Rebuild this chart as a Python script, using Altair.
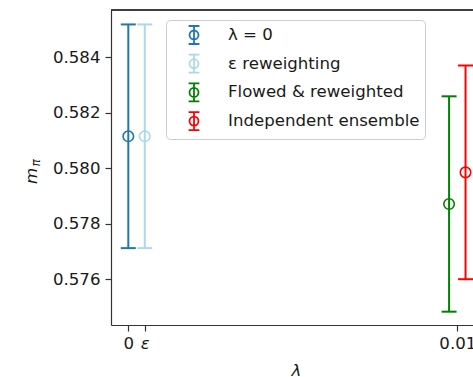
import altair as alt
import pandas as pd

# Pion mass at two lambda values, with error bars
series = ["λ = 0", "ε reweighting", "Flowed & reweighted", "Independent ensemble"]
lam = [0.0, 0.0005, 0.00975, 0.01025]
m_pi = [0.58115, 0.58115, 0.57871, 0.57985]
m_err = [0.00403, 0.00403, 0.00388, 0.00385]
colors = ["#1f77b4", "#add8e6", "#008000", "#ff0000"]

x_ticks = [0.0, 0.0005, 0.01]
y_ticks = [0.576, 0.578, 0.580, 0.582, 0.584]
y_title = ["m", "π"]

df = pd.DataFrame({"series": series, "lam": lam, "m": m_pi, "err": m_err})
df["lo"] = df["m"] - df["err"]
df["hi"] = df["m"] + df["err"]

FONT = "DejaVu Sans"
FS = 16.6
W, H = 362, 315

# error-bar glyph for the legend: vertical bar, caps and an open circle
ERRBAR_PATH = (
    "M0,-1L0,1M-0.6,-1L0.6,-1M-0.6,1L0.6,1"
    "M0.5,0A0.5,0.5 0 1,1 -0.5,0A0.5,0.5 0 1,1 0.5,0Z"
)

x_scale = alt.Scale(domain=[-0.000526, 0.010477], nice=False, zero=False)
y_scale = alt.Scale(domain=[0.57435, 0.5857], nice=False, zero=False)

x_enc = alt.X(
    "lam:Q",
    scale=x_scale,
    title="λ",
    axis=alt.Axis(
        values=x_ticks,
        labelExpr="datum.value == 0 ? '0' : (datum.value < 0.001 ? 'ε' : '0.01')",
        labelFontStyle={"condition": {"test": "datum.value > 0 && datum.value < 0.001",
                                      "value": "italic"}, "value": "normal"},
        grid=False,
        tickSize=6,
        labelPadding=4,
        titleFontStyle="italic",
        titleX=185,
        titleY=50,
        titleBaseline="alphabetic",
    ),
)

color_enc = alt.Color(
    "series:N",
    scale=alt.Scale(domain=series, range=colors),
    legend=alt.Legend(
        orient="none",
        legendX=55,
        legendY=10,
        title=None,
        symbolType=ERRBAR_PATH,
        symbolSize=324,
        symbolStrokeWidth=1.8,
        symbolFillColor="transparent",
        symbolOffset=13,
        labelOffset=24,
        labelFont=FONT,
        labelFontSize=FS,
        labelColor="#1a1a1a",
        labelLimit=400,
        rowPadding=2.7,
        padding=5,
        strokeColor="#cccccc",
        fillColor="white",
        cornerRadius=4,
    ),
)

base = alt.Chart(df)

bars = base.mark_rule(strokeWidth=2).encode(
    x=x_enc,
    y=alt.Y("lo:Q", scale=y_scale, title=None,
            axis=alt.Axis(values=y_ticks, format=".3f", grid=False,
                          tickSize=6, labelPadding=5)),
    y2="hi:Q",
    color=color_enc,
)

cap_lo = base.mark_rule(strokeWidth=2, xOffset=-7.5, x2Offset=7.5).encode(
    x=x_enc, x2="lam:Q", y=alt.Y("lo:Q", scale=y_scale), color=color_enc
)
cap_hi = base.mark_rule(strokeWidth=2, xOffset=-7.5, x2Offset=7.5).encode(
    x=x_enc, x2="lam:Q", y=alt.Y("hi:Q", scale=y_scale), color=color_enc
)

points = base.mark_point(filled=False, size=110, strokeWidth=1.6, opacity=1).encode(
    x=x_enc, y=alt.Y("m:Q", scale=y_scale), color=color_enc
)

top_line = base.mark_rule(color="#333333", strokeWidth=1.2).encode(
    x=alt.value(0), x2=alt.value(W), y=alt.value(0)
)

title_df = pd.DataFrame({"t": [y_title[0]]})
sub_df = pd.DataFrame({"t": [y_title[1]]})
y_lab = alt.Chart(title_df).mark_text(
    font=FONT, fontSize=FS, fontStyle="italic", angle=270,
    align="center", baseline="alphabetic", color="#1a1a1a"
).encode(text="t:N", x=alt.value(-74), y=alt.value(166))
y_sub = alt.Chart(sub_df).mark_text(
    font=FONT, fontSize=12, fontStyle="italic", angle=270,
    align="center", baseline="alphabetic", color="#1a1a1a"
).encode(text="t:N", x=alt.value(-71), y=alt.value(153))

chart = (
    alt.layer(bars, cap_lo, cap_hi, points, top_line, y_lab, y_sub)
    .properties(
        width=W,
        height=H,
        autosize="none",
        padding={"left": 111, "top": 10, "right": 0, "bottom": 52},
    )
    .configure_view(stroke=None)
    .configure_axis(
        labelFont=FONT,
        labelFontSize=FS,
        labelColor="#1a1a1a",
        titleFont=FONT,
        titleFontSize=FS,
        titleColor="#1a1a1a",
        titleFontWeight="normal",
        domainColor="#333333",
        domainWidth=1.2,
        tickColor="#333333",
        tickWidth=1.2,
    )
)

chart.save("out.html", embed_options={"renderer": "svg", "actions": False})
